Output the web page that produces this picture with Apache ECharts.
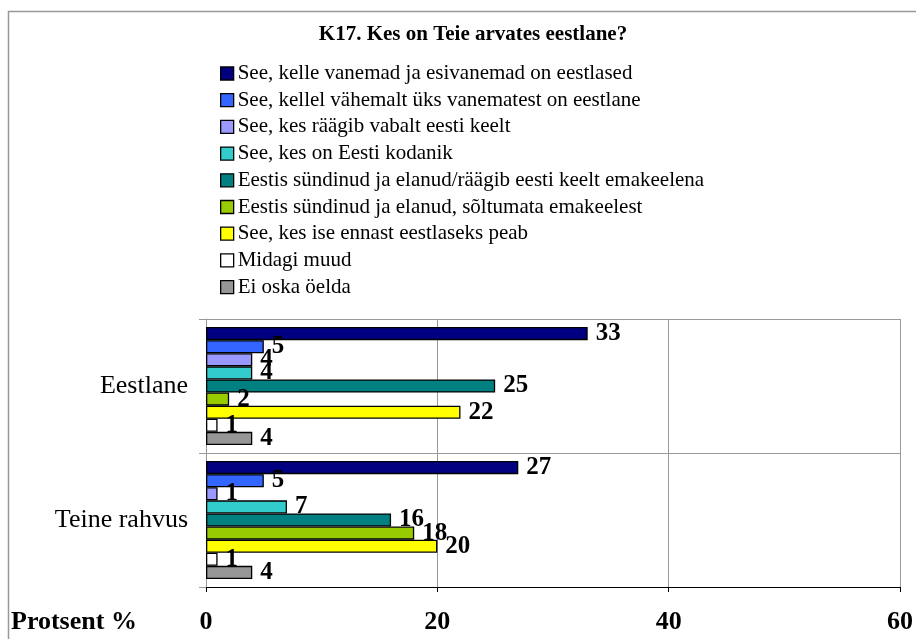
<!DOCTYPE html>
<html>
<head>
<meta charset="utf-8">
<script src="https://cdn.jsdelivr.net/npm/echarts@6/dist/echarts.min.js"></script>
<style>
html,body{margin:0;padding:0;background:#fff;}
#chart{width:916px;height:639px;}
</style>
</head>
<body>
<div id="chart"></div>
<script>
var titleText = 'K17. Kes on Teie arvates eestlane?';
var categories = ['Eestlane', 'Teine rahvus'];
var seriesNames = [
  'See, kelle vanemad ja esivanemad on eestlased',
  'See, kellel vähemalt üks vanematest on eestlane',
  'See, kes räägib vabalt eesti keelt',
  'See, kes on Eesti kodanik',
  'Eestis sündinud ja elanud/räägib eesti keelt emakeelena',
  'Eestis sündinud ja elanud, sõltumata emakeelest',
  'See, kes ise ennast eestlaseks peab',
  'Midagi muud',
  'Ei oska öelda'
];
var valuesEestlane = [33, 5, 4, 4, 25, 2, 22, 1, 4];
var valuesTeine = [27, 5, 1, 7, 16, 18, 20, 1, 4];
var seriesColors = ['#000080', '#3366FF', '#9999FF', '#33CCCC', '#008080', '#99CC00', '#FFFF00', '#FFFFFF', '#969696'];
var xTicks = [0, 20, 40, 60];
var axisTitle = 'Protsent %';

var FONT = '"Liberation Serif", "Times New Roman", serif';

var series = seriesNames.map(function (name, i) {
  return {
    name: name,
    type: 'bar',
    data: [valuesEestlane[i], valuesTeine[i]],
    barGap: '0%',
    barCategoryGap: '12%',
    itemStyle: { color: seriesColors[i], borderColor: '#000', borderWidth: 1.3 },
    label: {
      show: true, position: 'right', distance: 8,
      fontFamily: FONT, fontSize: 25, fontWeight: 'bold', color: '#000'
    },
    emphasis: { disabled: true }
  };
});

var chart = echarts.init(document.getElementById('chart'), null, { renderer: 'canvas' });
chart.setOption({
  animation: false,
  backgroundColor: '#fff',
  title: {
    text: titleText,
    left: 468, top: 19, textAlign: 'center',
    textStyle: { fontFamily: FONT, fontSize: 21, fontWeight: 'bold', color: '#000' }
  },
  legend: {
    orient: 'vertical',
    left: 220, top: 63,
    padding: 0,
    icon: 'rect',
    itemWidth: 13, itemHeight: 13,
    itemGap: 5.7,
    selectedMode: false,
    itemStyle: { borderColor: '#000', borderWidth: 1.3 },
    textStyle: { fontFamily: FONT, fontSize: 21, color: '#000', lineHeight: 21, padding: [0, 0, 0, -1] },
    data: seriesNames
  },
  grid: { left: 206, right: 12, top: 319, bottom: 52, containLabel: false },
  xAxis: {
    type: 'value', min: xTicks[0], max: xTicks[xTicks.length - 1], interval: 20,
    axisLine: { show: true, lineStyle: { color: '#000', width: 1 } },
    axisTick: { show: true, length: 5, lineStyle: { color: '#000' } },
    axisLabel: { margin: 22, fontFamily: FONT, fontSize: 26, fontWeight: 'bold', color: '#000' },
    splitLine: { show: true, lineStyle: { color: '#999', width: 1 } }
  },
  yAxis: {
    type: 'category', data: categories, inverse: true,
    axisLine: { show: true, lineStyle: { color: '#999', width: 1 } },
    axisTick: { show: true, length: 7, lineStyle: { color: '#999' } },
    axisLabel: { margin: 18, fontFamily: FONT, fontSize: 26, color: '#000' },
    splitLine: { show: true, lineStyle: { color: '#999', width: 1 } }
  },
  graphic: [
    {
      type: 'rect', silent: true, z: -1,
      shape: { x: 8.5, y: 11.5, width: 1000, height: 1000 },
      style: { fill: 'none', stroke: '#999', lineWidth: 1.5 }
    },
    {
      type: 'text', left: 11, top: 609,
      style: { text: axisTitle, fontFamily: FONT, fontSize: 26, fontWeight: 'bold', fill: '#000' }
    }
  ],
  series: series
});
</script>
</body>
</html>
